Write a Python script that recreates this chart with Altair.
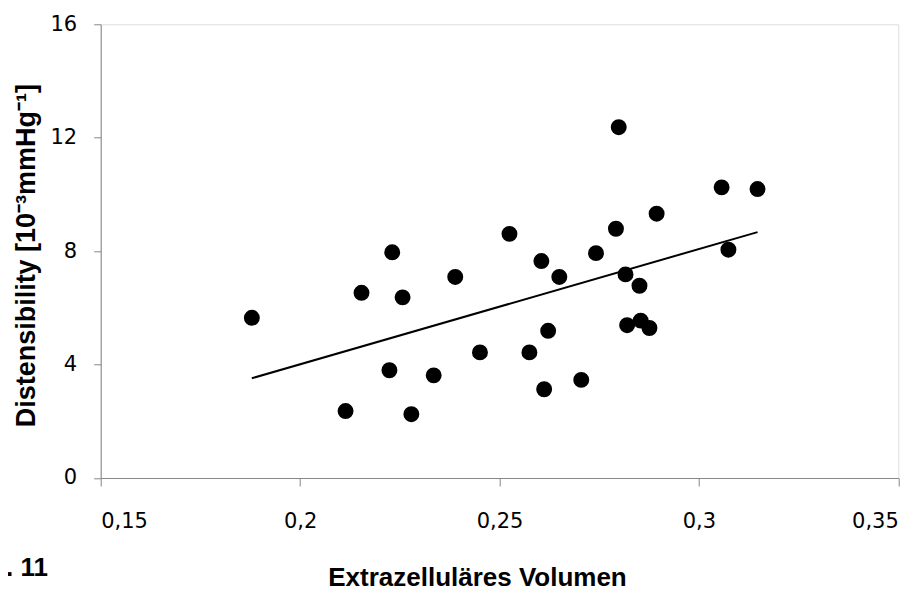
import altair as alt
import pandas as pd

# Data
x_vals = [0.1879, 0.2231, 0.2154, 0.2257, 0.2389, 0.2224, 0.2335, 0.2114, 0.2279,
          0.2799, 0.3057, 0.3147, 0.2894, 0.2792, 0.2525, 0.2742, 0.2605, 0.2650,
          0.2816, 0.2851, 0.3074, 0.2820, 0.2854, 0.2876, 0.2622, 0.2575, 0.2451,
          0.2705, 0.2612]
y_vals = [5.65, 7.96, 6.53, 6.37, 7.09, 3.80, 3.62, 2.36, 2.25,
          12.37, 10.25, 10.19, 9.32, 8.79, 8.61, 7.93, 7.65, 7.09,
          7.18, 6.78, 8.05, 5.39, 5.55, 5.29, 5.19, 4.43, 4.43,
          3.46, 3.13]
x_ticks = [0.15, 0.2, 0.25, 0.3, 0.35]
y_ticks = [0, 4, 8, 12, 16]
x_title = "Extrazelluläres Volumen"
y_title = "Distensibility [10⁻³mmHg⁻¹]"
fig_label = ["Abb. 11"]

df = pd.DataFrame({"x": x_vals, "y": y_vals})
lab_df = pd.DataFrame({"t": fig_label})

W = 797.6
H = 453.7
AXIS_GRAY = "#868686"
TICK_FONT = "DejaVu Sans"
TITLE_FONT = "Liberation Sans"

xenc = alt.X(
    "x:Q",
    scale=alt.Scale(domain=[0.15, 0.35], nice=False, zero=False),
    axis=alt.Axis(
        values=x_ticks,
        labelExpr="replace(toString(datum.value), '.', ',')",
        title=x_title,
        grid=False,
        domainColor=AXIS_GRAY,
        tickColor=AXIS_GRAY,
        tickSize=8,
        labelPadding=25,
        labelFont=TICK_FONT,
        labelFontSize=21,
        labelColor="#000000",
        labelBaseline="top",
        titleFont=TITLE_FONT,
        titleFontSize=26,
        titleFontWeight="bold",
        titleColor="#000000",
        titleX=376.3,
        titleY=108,
        titleAlign="center",
        titleBaseline="alphabetic",
    ),
)
yenc = alt.Y(
    "y:Q",
    scale=alt.Scale(domain=[0, 16], nice=False),
    axis=alt.Axis(
        values=y_ticks,
        title=y_title,
        grid=False,
        domainColor=AXIS_GRAY,
        tickColor=AXIS_GRAY,
        tickSize=7,
        labelPadding=17,
        labelFont=TICK_FONT,
        labelFontSize=21,
        labelColor="#000000",
        titleFont=TITLE_FONT,
        titleFontSize=27,
        titleFontWeight="bold",
        titleColor="#000000",
        titleAngle=270,
        titleX=-73.7,
        titleY=H / 2 + 4,
        titleAlign="center",
        titleBaseline="middle",
    ),
)

points = alt.Chart(df).mark_circle(size=254, color="#000000", opacity=1).encode(x=xenc, y=yenc)

trend = (
    alt.Chart(df)
    .transform_regression("x", "y")
    .mark_line(color="#000000", strokeWidth=2)
    .encode(x="x:Q", y="y:Q")
)

label = alt.Chart(lab_df).mark_text(
    align="right", baseline="alphabetic", font=TITLE_FONT, fontSize=26,
    fontWeight="bold", color="#000000"
).encode(text="t:N", x=alt.value(-52.7), y=alt.value(551.7))

chart = (
    alt.layer(trend, points, label)
    .properties(
        width=W,
        height=H,
        autosize=alt.AutoSizeParams(type="none"),
        padding={"left": 92.7, "top": 16.3, "right": 5, "bottom": 112},
    )
    .configure_view(stroke=None)
    .configure(background="white")
)

chart.save("out.html", embed_options={"renderer": "svg", "actions": False})
